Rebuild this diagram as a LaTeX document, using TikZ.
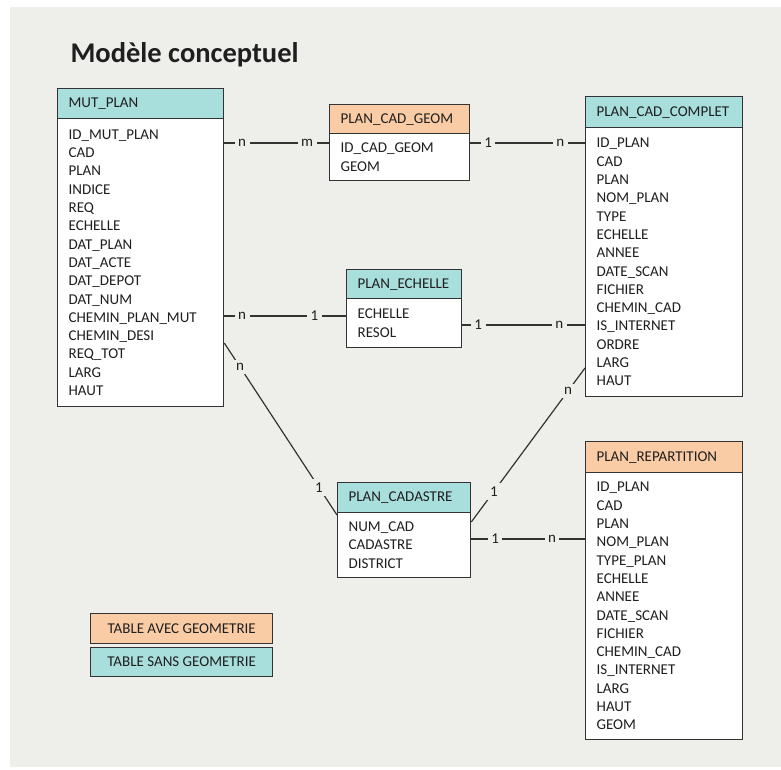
\documentclass[tikz,border=0pt]{standalone}
\usepackage{fontspec}
\setmainfont{Carlito}
\usetikzlibrary{calc}
\definecolor{bg}{HTML}{EEEEEB}
\definecolor{cyanH}{HTML}{A8DEDC}
\definecolor{orangeH}{HTML}{F9CCA5}
\definecolor{bord}{HTML}{333333}
\definecolor{txt}{HTML}{1F1F1F}
\begin{document}
\begin{tikzpicture}[x=1pt,y=-1pt,
  box/.style={draw=bord, line width=1.3pt, anchor=north west, inner xsep=11pt, inner ysep=0pt,
    align=left, text=txt, font=\fontsize{15}{18.3}\selectfont},
  hdrc/.style={box, fill=cyanH},
  hdro/.style={box, fill=orangeH},
  body/.style={box, fill=white},
  conn/.style={draw=bord, line width=1.2pt},
  lbl/.style={fill=bg, inner sep=3.5pt, text=txt, font=\fontsize{15}{18}\selectfont},
  legend/.style={draw=bord, line width=1.3pt, anchor=north west, text=txt, inner sep=0pt,
    minimum width=182pt, font=\fontsize{15}{18}\selectfont}]
\useasboundingbox (0,0) rectangle (781,769);
\fill[white] (0,0) rectangle (781,769);
\fill[bg] (10,7) rectangle (781,767);

\node[anchor=base west, text=txt, font=\fontsize{28.5}{32}\selectfont\bfseries] (title) at (67,62) {Modèle conceptuel};

% MUT_PLAN
\node[hdrc, text width=144pt, minimum height=30pt] (muth) at (57,88) {MUT\_PLAN};
\node[body, text width=144pt, minimum height=288pt] (mutb) at (57,118) {ID\_MUT\_PLAN\\CAD\\PLAN\\INDICE\\REQ\\ECHELLE\\DAT\_PLAN\\DAT\_ACTE\\DAT\_DEPOT\\DAT\_NUM\\CHEMIN\_PLAN\_MUT\\CHEMIN\_DESI\\REQ\_TOT\\LARG\\HAUT};

% PLAN_CAD_GEOM
\node[hdro, text width=118pt, minimum height=29pt] (geomh) at (329,104) {PLAN\_CAD\_GEOM};
\node[body, text width=118pt, minimum height=47pt] (geomb) at (329,133) {ID\_CAD\_GEOM\\GEOM};

% PLAN_CAD_COMPLET
\node[hdrc, text width=135pt, minimum height=31pt] (comph) at (585,96) {PLAN\_CAD\_COMPLET};
\node[body, text width=135pt, minimum height=269pt] (compb) at (585,127) {ID\_PLAN\\CAD\\PLAN\\NOM\_PLAN\\TYPE\\ECHELLE\\ANNEE\\DATE\_SCAN\\FICHIER\\CHEMIN\_CAD\\IS\_INTERNET\\ORDRE\\LARG\\HAUT};

% PLAN_ECHELLE
\node[hdrc, text width=93pt, minimum height=29pt] (echh) at (346,269) {PLAN\_ECHELLE};
\node[body, text width=93pt, minimum height=49pt] (echb) at (346,298) {ECHELLE\\RESOL};

% PLAN_CADASTRE
\node[hdrc, text width=111pt, minimum height=30pt] (cadh) at (337,482) {PLAN\_CADASTRE};
\node[body, text width=111pt, minimum height=65pt] (cadb) at (337,512) {NUM\_CAD\\CADASTRE\\DISTRICT};

% PLAN_REPARTITION
\node[hdro, text width=135pt, minimum height=31pt] (reph) at (585,441) {PLAN\_REPARTITION};
\node[body, text width=135pt, minimum height=267pt] (repb) at (585,472) {ID\_PLAN\\CAD\\PLAN\\NOM\_PLAN\\TYPE\_PLAN\\ECHELLE\\ANNEE\\DATE\_SCAN\\FICHIER\\CHEMIN\_CAD\\IS\_INTERNET\\LARG\\HAUT\\GEOM};

% connectors
\draw[conn] ([yshift=-25pt]mutb.north east) -- node[lbl,pos=0.17]{n} node[lbl,pos=0.79]{m} ([yshift=-10pt]geomb.north west);
\draw[conn] ([yshift=-10pt]geomb.north east) -- node[lbl,pos=0.155]{1} node[lbl,pos=0.785]{n} ([yshift=-16pt]compb.north west);
\draw[conn] ([yshift=-198pt]mutb.north east) -- node[lbl,pos=0.146]{n} node[lbl,pos=0.74]{1} ([yshift=-18pt]echb.north west);
\draw[conn] ([yshift=-27pt]echb.north east) -- node[lbl,pos=0.13]{1} node[lbl,pos=0.79]{n} ([yshift=-198pt]compb.north west);
\draw[conn] ([yshift=-225pt]mutb.north east) -- node[lbl,pos=0.14]{n} node[lbl,pos=0.84]{1} ([yshift=-3pt]cadb.north west);
\draw[conn] ([yshift=-10pt]cadb.north east) -- node[lbl,pos=0.2]{1} node[lbl,pos=0.85]{n} ([yshift=-241pt]compb.north west);
\draw[conn] ([yshift=-27pt]cadb.north east) -- node[lbl,pos=0.21]{1} node[lbl,pos=0.71]{n} ([yshift=-67pt]repb.north west);

% legend
\node[legend, fill=orangeH, minimum height=30pt] (lega) at (90,613) {TABLE AVEC GEOMETRIE};
\node[legend, fill=cyanH, minimum height=29pt] (legs) at (90,647) {TABLE SANS GEOMETRIE};
\end{tikzpicture}
\end{document}
